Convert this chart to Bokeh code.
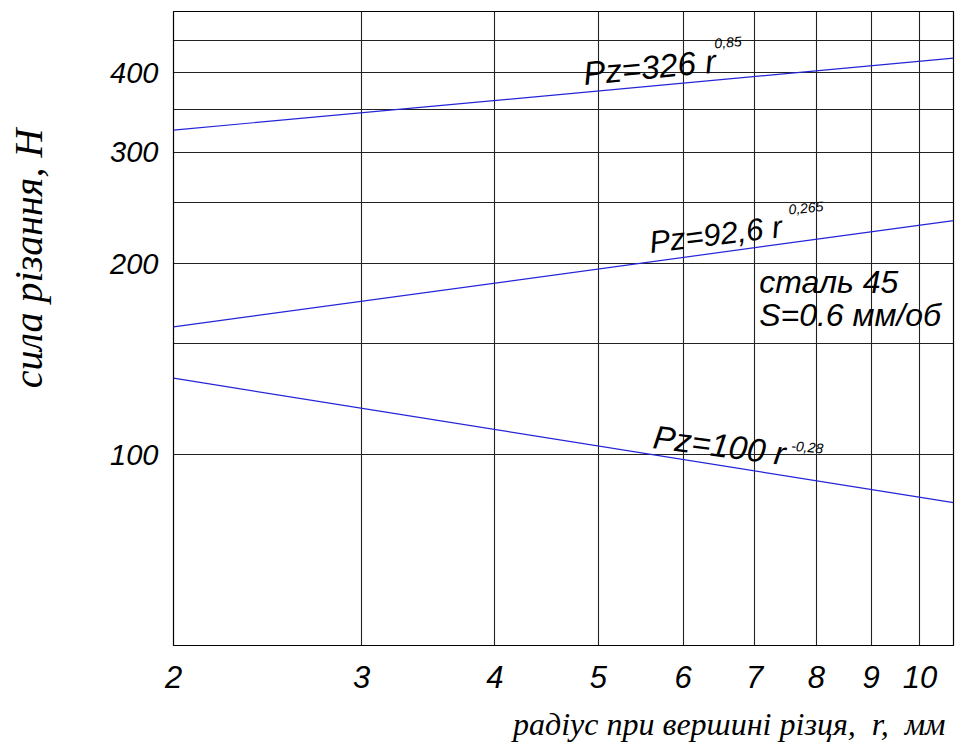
from bokeh.plotting import figure
from bokeh.models import FixedTicker, PrintfTickFormatter, Label, Title
from bokeh.embed import file_html
from bokeh.resources import INLINE

# ---- data ----
r_ends = [2.0, 10.75]            # radius at left/right edge of chart, mm
pz_326 = [325.0, 422.0]          # Pz = 326 r^0.85 line
pz_926 = [159.0, 234.0]          # Pz = 92.6 r^0.265 line
pz_100 = [132.0, 84.0]           # Pz = 100 r^-0.28 line

x_ticks = [2, 3, 4, 5, 6, 7, 8, 9, 10]
y_label_ticks = [100, 200, 300, 400]
y_grid_ticks = [50, 100, 150, 200, 250, 300, 350, 400, 450, 500]

CAD = "'Liberation Sans', sans-serif"
SERIF = "'Liberation Serif', serif"
NB = "\u00a0"

p = figure(width=962, height=745, x_axis_type="log", y_axis_type="log",
           x_range=(2, 10.75), y_range=(50, 500),
           output_backend="svg", toolbar_location=None,
           min_border_left=173, min_border_right=9, min_border_top=11,
           min_border_bottom=100)
p.background_fill_color = "white"
p.border_fill_color = "white"
p.outline_line_color = "black"
p.outline_line_width = 1.2

# axes
for ax in (p.xaxis[0], p.yaxis[0]):
    ax.axis_line_color = None
    ax.major_tick_line_color = None
    ax.minor_tick_line_color = None
    ax.major_tick_out = 0
    ax.major_tick_in = 0
    ax.minor_tick_out = 0
    ax.minor_tick_in = 0
    ax.major_label_text_font = CAD
    ax.major_label_text_font_style = "italic"
    ax.major_label_text_color = "black"
    ax.formatter = PrintfTickFormatter(format="%d")

p.xaxis.ticker = FixedTicker(ticks=x_ticks)
p.yaxis.ticker = FixedTicker(ticks=y_label_ticks)
p.xaxis.major_label_text_font_size = "31px"
p.yaxis.major_label_text_font_size = "29px"
p.xaxis.major_label_standoff = 20
p.yaxis.major_label_standoff = 15

# y-axis title (padded so that it sits above the frame centre as in the original)
p.yaxis.axis_label = NB * 14 + "сила різання, Н"
p.yaxis.axis_label_text_font = SERIF
p.yaxis.axis_label_text_font_style = "italic"
p.yaxis.axis_label_text_font_size = "40px"
p.yaxis.axis_label_text_color = "black"
p.yaxis.axis_label_standoff = 56

# spacer below the x tick labels so that the x title sits at the bottom
p.xaxis.axis_label = NB
p.xaxis.axis_label_text_font_size = "1px"
p.xaxis.axis_label_standoff = 8

# grid
p.xgrid.ticker = FixedTicker(ticks=x_ticks)
p.ygrid.ticker = FixedTicker(ticks=y_grid_ticks)
for g in (p.xgrid[0], p.ygrid[0]):
    g.grid_line_color = "#222222"
    g.grid_line_width = 1.1
    g.grid_line_alpha = 1.0

# curves
blue = "#2424d8"
for ys in (pz_326, pz_926, pz_100):
    p.line(r_ends, ys, line_color=blue, line_width=1.2)

def lab(x, y, text, size, angle=0.0):
    p.add_layout(Label(x=x, y=y, text=text, text_font=CAD,
                       text_font_style="italic", text_font_size=size,
                       text_color="black", angle=angle,
                       text_align="left", text_baseline="alphabetic"))

# formula labels
lab(4.84, 399, "Pz=326 r", "33px", angle=0.095)
lab(6.42, 445, "0,85", "14px", angle=0.09)
lab(5.58, 216, "Pz=92,6 r", "31px", angle=0.12)
lab(7.53, 243.5, "0,265", "14px", angle=0.1)
lab(5.63, 106.8, "Pz=100 r", "33px", angle=-0.13)
lab(7.58, 103.4, "-0,28", "14px", angle=-0.1)
lab(7.07, 187.5, "сталь 45", "32px")
lab(7.07, 166, "S=0.6 мм/об", "32px")

# x-axis title
xt = Title(text="радіус при вершині різця," + NB + " r," + NB + " мм", align="right",
           offset=8, text_font=SERIF, text_font_style="italic",
           text_font_size="32px", text_color="black",
           vertical_align="bottom", standoff=2)
p.add_layout(xt, "below")

open("out.html", "w").write(file_html(p, INLINE))
